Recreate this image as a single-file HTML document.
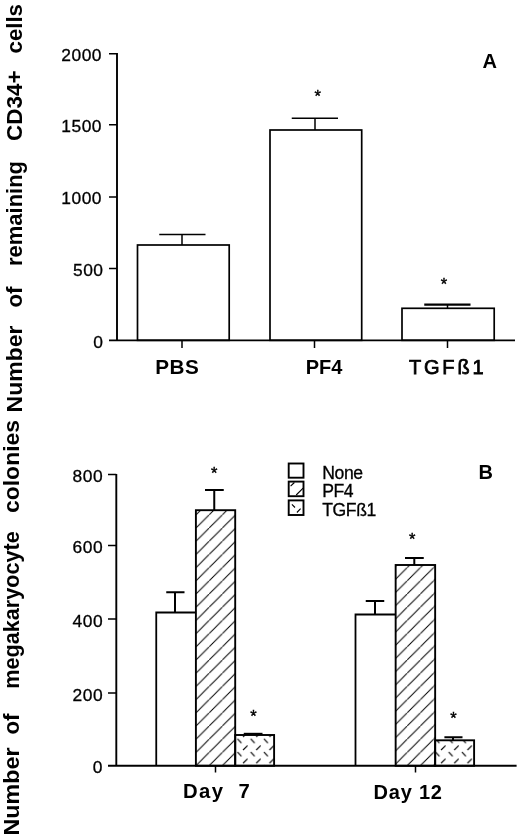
<!DOCTYPE html>
<html><head><meta charset="utf-8">
<style>
html,body{margin:0;padding:0;background:#fff;}
svg{display:block;}
text{font-family:"Liberation Sans",sans-serif;fill:#000;}
.b{font-weight:bold;}
.ln{stroke:#000;fill:none;}
</style></head>
<body>
<svg width="520" height="839" viewBox="0 0 520 839">
<defs>
<pattern id="hatch" patternUnits="userSpaceOnUse" x="11.2" y="0" width="13.2" height="13.2">
<path d="M-1,14.2 L14.2,-1" stroke="#000" stroke-width="1.0" fill="none"/>
</pattern>
<pattern id="dash" patternUnits="userSpaceOnUse" x="236.5" y="737.75" width="13.2" height="13.2">
<path d="M1,1 L5,5.3 M6.6,12.2 L11,7.9" stroke="#000" stroke-width="1.2" fill="none"/>
</pattern>
</defs>
<rect width="520" height="839" fill="#fff"/>

<!-- ===== Chart A ===== -->
<g class="ln" stroke-width="1.9">
<path d="M117,53 V340.3"/>
<path stroke-width="1.7" d="M109,340.3 H515"/>
</g>
<g class="ln" stroke-width="1.7">
<rect x="137.5" y="245" width="91.7" height="95.3"/>
<rect x="270" y="130" width="91.7" height="210.3"/>
<rect x="402" y="308.3" width="92.2" height="32"/>
</g>
<g class="ln" stroke-width="1.5">
<path d="M109,53.75 H117 M109,124.75 H117 M109,196.9 H117 M109,268.5 H117"/>
<path d="M182,340.3 V348 M314.5,340.3 V348 M447.5,340.3 V348"/>
<path d="M182,245 V234.5 M159.25,234.5 H205.5"/>
<path d="M315,130 V118.25 M291.75,118.25 H338"/>
<path d="M447.5,308 V304.5"/>
<path stroke-width="2.1" d="M424.25,304.6 H470.5"/>
</g>
<g font-size="17.4" text-anchor="end" letter-spacing="0.5" style="stroke:#000;stroke-width:0.3">
<text x="102" y="61">2000</text>
<text x="102" y="132.3">1500</text>
<text x="102" y="204.4">1000</text>
<text x="103.5" y="276.3">500</text>
<text x="103.3" y="348">0</text>
</g>
<g class="b" font-size="20">
<text x="155.3" y="373.6" letter-spacing="0.5" font-size="20.7">PBS</text>
<text x="305.7" y="373.6">PF4</text>
<text x="409" y="374" letter-spacing="2.8" style="font-weight:normal;stroke:#000;stroke-width:0.75">TGFß1</text>
<text x="482.5" y="67.7">A</text>
</g>

<!-- ===== Chart B ===== -->
<rect x="195.9" y="510.2" width="39.3" height="255.6" fill="url(#hatch)"/>
<rect x="395.65" y="565" width="39.5" height="200.8" fill="url(#hatch)"/>
<rect x="235.2" y="735" width="38.9" height="30.8" fill="url(#dash)"/>
<rect x="435.15" y="740.3" width="38.95" height="25.5" fill="url(#dash)"/>
<g class="ln" stroke-width="1.9">
<path d="M116.3,474 V765.8"/>
<path d="M108,765.8 H516.6"/>
<rect x="195.9" y="510.2" width="39.3" height="255.6"/>
<rect x="395.65" y="565" width="39.5" height="200.8"/>
<rect x="235.2" y="735" width="38.9" height="30.8"/>
<rect x="435.15" y="740.3" width="38.95" height="25.5"/>
</g>
<g class="ln" stroke-width="1.8">
<path d="M156.25,765.8 V612.5 H195.5"/>
<path d="M355.5,765.8 V614.5 H395.5"/>
</g>
<g class="ln" stroke-width="1.5">
<path d="M108,474.6 H116.3 M108,545.6 H116.3 M108,619 H116.3 M108,693.1 H116.3"/>
<path d="M215.5,765.8 V772.5 M415.5,765.8 V772.5"/>
</g>
<g class="ln" stroke-width="2">
<path d="M175,612.5 V592.2 M166.25,592.2 H184.5"/>
<path d="M214.25,510 V490 M205,490 H223.75"/>
<path d="M375,614.5 V600.9 M365.75,600.9 H384.25"/>
<path d="M414.3,565 V558.1 M405,558.1 H423.75"/>
<path d="M453,740.3 V737.2 M444.4,737.2 H462.5"/>
</g>
<path class="ln" stroke-width="2" d="M243.75,733.8 H262.5"/>
<g font-size="17.4" text-anchor="end" letter-spacing="0.7" style="stroke:#000;stroke-width:0.3">
<text x="103.5" y="481.8">800</text>
<text x="103.5" y="553.4">600</text>
<text x="103.5" y="626.8">400</text>
<text x="103.5" y="701.2">200</text>
<text x="103" y="773.3">0</text>
</g>
<g class="b" font-size="20">
<text x="183" y="798" letter-spacing="1.4" font-size="20.3" xml:space="preserve" style="white-space:pre">Day  7</text>
<text x="373.5" y="798.6" letter-spacing="0.8">Day 12</text>
<text x="478.5" y="478.7">B</text>
</g>
<!-- legend -->
<g class="ln" stroke-width="1.9">
<rect x="288.7" y="463.5" width="14.8" height="14.2"/>
<rect x="288.7" y="481.6" width="14.8" height="14.6"/>
<rect x="288.7" y="500.4" width="14.8" height="14.6"/>
</g>
<g class="ln" stroke-width="1.1">
<path d="M290.6,486.2 L294.4,482.5 M296.2,495 L303.1,488.1"/>
<path d="M291.9,504.4 L295,507.5 M296.9,512.5 L300.6,508.7"/>
</g>
<g font-size="17.6" letter-spacing="-0.4" style="stroke:#000;stroke-width:0.3">
<text x="322.2" y="478.7">None</text>
<text x="322.2" y="497.1">PF4</text>
<text x="322.2" y="516.2">TGFß1</text>
</g>

<g font-size="16.5" style="stroke:#000;stroke-width:0.4">
<text x="314.50" y="102.05">*</text>
<text x="440.75" y="289.75">*</text>
<text x="211.05" y="478.55">*</text>
<text x="250.20" y="721.85">*</text>
<text x="409.05" y="545.05">*</text>
<text x="450.25" y="723.85">*</text>
</g>
<!-- ===== Rotated axis labels ===== -->
<g class="b" font-size="21.5">
<text transform="translate(22,412.5) rotate(-90)" textLength="87" lengthAdjust="spacingAndGlyphs">Number</text>
<text transform="translate(22,307.5) rotate(-90)" textLength="21" lengthAdjust="spacingAndGlyphs">of</text>
<text transform="translate(22,266) rotate(-90)" textLength="105" lengthAdjust="spacingAndGlyphs">remaining</text>
<text transform="translate(22,141) rotate(-90)" textLength="70.5" lengthAdjust="spacingAndGlyphs">CD34+</text>
<text transform="translate(22,53.5) rotate(-90)" textLength="49.5" lengthAdjust="spacingAndGlyphs">cells</text>
<text transform="translate(18.8,835.5) rotate(-90)" textLength="88" lengthAdjust="spacingAndGlyphs">Number</text>
<text transform="translate(18.8,734.5) rotate(-90)" textLength="21" lengthAdjust="spacingAndGlyphs">of</text>
<text transform="translate(18.8,688.7) rotate(-90)" textLength="157.5" lengthAdjust="spacingAndGlyphs">megakaryocyte</text>
<text transform="translate(18.8,513) rotate(-90)" textLength="93" lengthAdjust="spacingAndGlyphs">colonies</text>
</g>
</svg>
</body></html>
